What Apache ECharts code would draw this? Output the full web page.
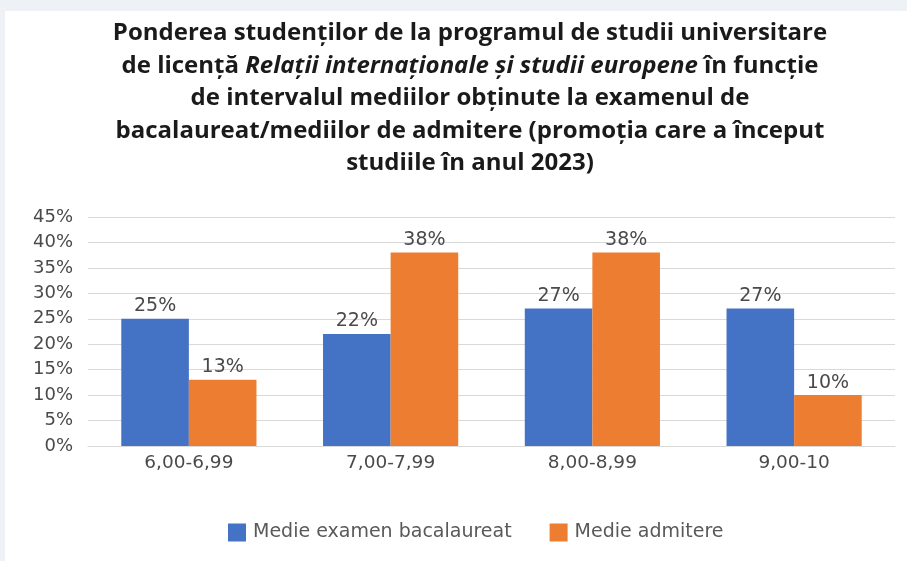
<!DOCTYPE html>
<html><head><meta charset="utf-8">
<script src="https://cdn.jsdelivr.net/npm/echarts@6/dist/echarts.min.js"></script>
<style>html,body{margin:0;padding:0;background:#eef1f5;}#c{width:907px;height:561px;}</style>
</head><body><div id="c"></div>
<script>
const categories = ['6,00-6,99', '7,00-7,99', '8,00-8,99', '9,00-10'];
const seriesNames = ['Medie examen bacalaureat', 'Medie admitere'];
const bacValues = [25, 22, 27, 27];
const admValues = [13, 38, 38, 10];
const bacLabels = ['25%', '22%', '27%', '27%'];
const admLabels = ['13%', '38%', '38%', '10%'];

const chart = echarts.init(document.getElementById('c'));
const txt = '#4a4a4a';
const font = '"DejaVu Sans", sans-serif';
const tfont = '"Open Sans", "Noto Sans", sans-serif';
chart.setOption({
  animation: false,
  backgroundColor: 'transparent',
  graphic: [{type:'rect', shape:{x:5,y:11,width:902,height:550}, style:{fill:'#ffffff'}, z:-10}],
  title: {
    left: 465, top: 12, textAlign: 'center',
    text: 'Ponderea studenților de la programul de studii universitare\nde licență {i|Relații internaționale și studii europene} în funcție\nde intervalul mediilor obținute la examenul de\nbacalaureat/mediilor de admitere (promoția care a început\nstudiile în anul 2023)',
    textStyle: {
      fontFamily: tfont, fontSize: 24, fontWeight: 'bold', color: '#1a1a1a', lineHeight: 32.5,
      rich: { i: { fontFamily: tfont, fontSize: 24, fontWeight: 'bold', fontStyle: 'italic', color: '#1a1a1a', lineHeight: 32.5 } }
    }
  },
  legend: {
    top: 523, left: 228, itemWidth: 18, itemHeight: 18, itemGap: 38,
    icon: 'rect', padding: 0,
    textStyle: {fontFamily: font, fontSize: 19, color: '#595959', padding: [0, 0, 0, 2]},
    data: seriesNames
  },
  grid: {left: 88, right: 12, top: 217, bottom: 115, containLabel: false},
  xAxis: {
    type: 'category', data: categories,
    axisLine: {show: true, lineStyle: {color: '#d9d9d9'}},
    axisTick: {show: false},
    axisLabel: {fontFamily: font, fontSize: 18.5, color: txt, margin: 8}
  },
  yAxis: {
    type: 'value', min: 0, max: 45, interval: 5,
    axisLabel: {formatter: '{value}%', fontFamily: font, fontSize: 18, color: txt, margin: 15},
    splitLine: {lineStyle: {color: '#d9d9d9'}},
    axisLine: {show: false}, axisTick: {show: false}
  },
  series: [
    {name: seriesNames[0], type: 'bar', data: bacValues, barGap: '0%', barCategoryGap: '33%',
     itemStyle: {color: '#4472C4'},
     label: {show: true, position: 'top', distance: 3, fontFamily: font, fontSize: 19, color: txt,
       formatter: p => bacLabels[p.dataIndex]}},
    {name: seriesNames[1], type: 'bar', data: admValues, barGap: '0%', barCategoryGap: '33%',
     itemStyle: {color: '#ED7D31'},
     label: {show: true, position: 'top', distance: 3, fontFamily: font, fontSize: 19, color: txt,
       formatter: p => admLabels[p.dataIndex]}}
  ]
});
</script></body></html>
